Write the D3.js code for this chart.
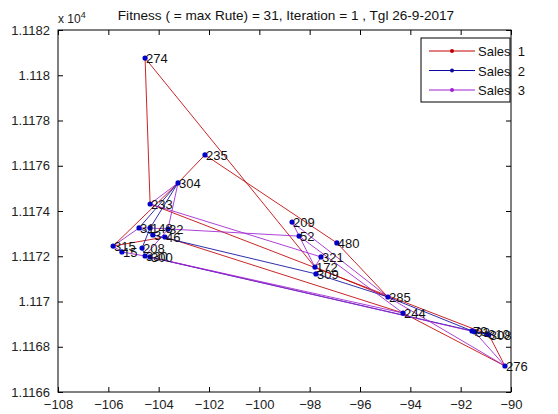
<!DOCTYPE html>
<html>
<head>
<meta charset="utf-8">
<script src="https://cdn.jsdelivr.net/npm/d3@7"></script>
<style>
  body { margin: 0; background: #fff; }
  svg { font-family: "Liberation Sans", Arial, sans-serif; }
</style>
</head>
<body>
<svg id="chart" width="558" height="414"></svg>
<script>
// city ids, longitude, latitude (x 10^4)
const cityIds = [274, 235, 304, 233, 31, 148, 32, 46, 3, 315, 15, 208, 330, 300,
                 209, 52, 480, 321, 172, 309, 285, 244, 79, 93, 310, 308, 276];
const cityX = [-104.54, -102.16, -103.23, -104.34, -104.78, -104.34, -103.63, -103.75, -104.23, -105.81, -105.46, -104.66, -104.54, -104.34,
               -98.70, -98.42, -96.92, -97.55, -97.79, -97.75, -94.89, -94.29, -91.55, -91.45, -90.95, -90.88, -90.24];
const cityY = [11180.76, 11176.48, 11175.24, 11174.31, 11173.25, 11173.25, 11173.20, 11172.85, 11172.94, 11172.45, 11172.19, 11172.36, 11172.01, 11171.97,
               11173.51, 11172.89, 11172.59, 11171.97, 11171.52, 11171.22, 11170.20, 11169.49, 11168.70, 11168.66, 11168.55, 11168.53, 11167.15];

// routes per salesman
const route1 = [233, 274, 172, 285, 480, 235, 304, 315, 46, 244, 276, 308, 233];
const route2 = [148, 304, 31, 3, 309, 285, 79, 310, 330, 208, 148];
const route3 = [32, 304, 233, 321, 172, 209, 285, 276, 93, 300, 15, 315, 31, 148, 52, 244, 330, 32];
const salesNames = ["Sales  1", "Sales  2", "Sales  3"];
const salesColors = ["#c00000", "#0a0aa0", "#a020d0"];

const xTicks = [-108, -106, -104, -102, -100, -98, -96, -94, -92, -90];
const yTicks = [11166, 11168, 11170, 11172, 11174, 11176, 11178, 11180, 11182].map(d => d / 10);
const yTickLabels = ["1.1166", "1.1168", "1.117", "1.1172", "1.1174", "1.1176", "1.1178", "1.118", "1.1182"];

const svg = d3.select("#chart");
const mLeft = 58, mRight = 511, mTop = 30, mBottom = 392;

const x = d3.scaleLinear().domain([-108, -90]).range([mLeft, mRight]);
const y = d3.scaleLinear().domain([1116.6, 1118.2]).range([mBottom, mTop]);

const cities = cityIds.map((id, i) => ({id: id, x: cityX[i], y: cityY[i] / 10}));
const byId = new Map(cities.map(c => [c.id, c]));

// routes
const line = d3.line().x(d => x(d.x)).y(d => y(d.y));
[route1, route2, route3].forEach((r, i) => {
    svg.append("path")
        .attr("d", line(r.map(id => byId.get(id))))
        .attr("fill", "none")
        .attr("stroke", salesColors[i])
        .attr("stroke-width", 1)
        .attr("stroke-opacity", 0.85);
});

// city markers + labels
svg.append("g").selectAll("circle")
    .data(cities).enter().append("circle")
    .attr("cx", d => x(d.x))
    .attr("cy", d => y(d.y))
    .attr("r", 2.6)
    .attr("fill", "#0000c8");

svg.append("g").selectAll("text")
    .data(cities).enter().append("text")
    .attr("x", d => x(d.x) + 1)
    .attr("y", d => y(d.y) + 5)
    .attr("font-size", 13)
    .attr("fill", "#111")
    .text(d => d.id);

// frame
svg.append("rect")
    .attr("x", mLeft).attr("y", mTop)
    .attr("width", mRight - mLeft).attr("height", mBottom - mTop)
    .attr("fill", "none").attr("stroke", "#000").attr("stroke-width", 1);

// axes, ticks inward
const xAxisB = d3.axisBottom(x).tickValues(xTicks).tickSize(-5).tickPadding(8).tickFormat(d3.format("d"));
const xAxisT = d3.axisTop(x).tickValues(xTicks).tickSize(-5).tickFormat("");
const yAxisL = d3.axisLeft(y).tickValues(yTicks).tickSize(-5).tickPadding(8)
    .tickFormat((d, i) => yTickLabels[i]);
const yAxisR = d3.axisRight(y).tickValues(yTicks).tickSize(-5).tickFormat("");

svg.append("g").attr("transform", `translate(0,${mBottom})`).call(xAxisB);
svg.append("g").attr("transform", `translate(0,${mTop})`).call(xAxisT);
svg.append("g").attr("transform", `translate(${mLeft},0)`).call(yAxisL);
svg.append("g").attr("transform", `translate(${mRight},0)`).call(yAxisR);

svg.selectAll(".domain").remove();
svg.selectAll(".tick line").attr("stroke", "#000");
svg.selectAll(".tick text")
    .attr("font-size", 13)
    .attr("font-family", "Liberation Sans, Arial, sans-serif")
    .attr("fill", "#222");

// exponent + title
const expo = svg.append("text").attr("x", mLeft).attr("y", 23).attr("font-size", 12).attr("fill", "#222");
expo.append("tspan").text("x 10");
expo.append("tspan").attr("dy", -5).attr("font-size", 9).text("4");

svg.append("text")
    .attr("x", 286).attr("y", 20)
    .attr("text-anchor", "middle")
    .attr("font-size", 13.6)
    .attr("fill", "#111")
    .text("Fitness ( = max Rute) = 31, Iteration = 1 , Tgl 26-9-2017");

// legend
const lg = svg.append("g");
lg.append("rect")
    .attr("x", 421).attr("y", 38).attr("width", 89).attr("height", 64)
    .attr("fill", "#fff").attr("stroke", "#000");
salesNames.forEach((name, i) => {
    const ly = 51 + i * 19.5;
    lg.append("line").attr("x1", 429).attr("x2", 475).attr("y1", ly).attr("y2", ly)
        .attr("stroke", salesColors[i]).attr("stroke-width", 1);
    lg.append("circle").attr("cx", 452).attr("cy", ly).attr("r", 2).attr("fill", salesColors[i]);
    lg.append("text").attr("x", 478).attr("y", ly + 5)
        .attr("font-size", 13).attr("fill", "#111")
        .attr("xml:space", "preserve").style("white-space", "pre")
        .text(name);
});
</script>
</body>
</html>
